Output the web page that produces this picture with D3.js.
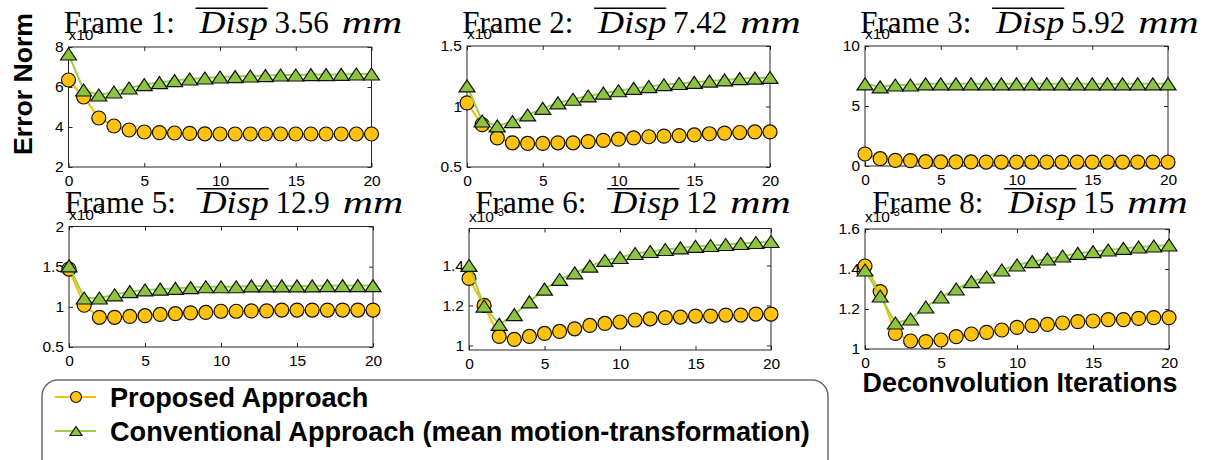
<!DOCTYPE html>
<html><head><meta charset="utf-8">
<script src="https://cdn.jsdelivr.net/npm/d3@7"></script>
<style>body{margin:0;background:#fff}svg{display:block}</style>
</head><body>
<svg id="c" width="1210" height="460"></svg>
<script>
// ---------------- DATA ----------------
const iterations = [0,1,2,3,4,5,6,7,8,9,10,11,12,13,14,15,16,17,18,19,20];
const xTicks = [0,5,10,15,20];
const frameLabels = ["Frame 1:", "Frame 2:", "Frame 3:", "Frame 5:", "Frame 6:", "Frame 8:"];
const dispValues = ["3.56", "7.42", "5.92", "12.9", "12", "15"];
const exponentLabel = "-3";
const seriesNames = ["Proposed Approach", "Conventional Approach (mean motion-transformation)"];
const xAxisTitle = "Deconvolution Iterations";
const yAxisTitle = "Error Norm";

const proposed1 = [6.35,5.5,4.45,4.05,3.85,3.75,3.72,3.7,3.68,3.66,3.65,3.65,3.65,3.65,3.65,3.65,3.65,3.65,3.65,3.65,3.65];
const conventional1 = [7.65,5.85,5.6,5.75,5.95,6.12,6.22,6.32,6.4,6.45,6.5,6.52,6.55,6.57,6.6,6.6,6.62,6.62,6.63,6.65,6.65];
const proposed2 = [1.03,0.85,0.74,0.70,0.695,0.695,0.70,0.70,0.71,0.72,0.73,0.74,0.75,0.755,0.76,0.765,0.775,0.78,0.785,0.79,0.79];
const conventional2 = [1.17,0.88,0.84,0.875,0.93,0.985,1.03,1.06,1.087,1.11,1.13,1.15,1.165,1.18,1.19,1.2,1.21,1.22,1.23,1.235,1.24];
const proposed3 = [1.0,0.61,0.47,0.45,0.36,0.34,0.34,0.34,0.33,0.33,0.33,0.33,0.33,0.33,0.33,0.33,0.33,0.33,0.33,0.33,0.33];
const conventional3 = [6.85,6.6,6.75,6.75,6.85,6.85,6.85,6.85,6.85,6.85,6.85,6.85,6.85,6.85,6.85,6.85,6.85,6.85,6.85,6.85,6.85];
const proposed5 = [1.47,1.02,0.87,0.87,0.88,0.89,0.905,0.915,0.925,0.93,0.945,0.945,0.95,0.95,0.96,0.96,0.96,0.96,0.96,0.96,0.96];
const conventional5 = [1.51,1.11,1.11,1.15,1.19,1.21,1.22,1.23,1.24,1.25,1.25,1.25,1.26,1.26,1.26,1.26,1.26,1.265,1.265,1.265,1.265];
const proposed6 = [1.335,1.2,1.045,1.03,1.045,1.06,1.07,1.083,1.10,1.11,1.117,1.127,1.133,1.139,1.142,1.147,1.147,1.152,1.152,1.157,1.157];
const conventional6 = [1.40,1.197,1.105,1.154,1.218,1.282,1.33,1.363,1.397,1.425,1.44,1.46,1.47,1.48,1.488,1.496,1.50,1.505,1.51,1.515,1.52];
const proposed8 = [1.415,1.287,1.078,1.04,1.037,1.045,1.062,1.075,1.083,1.095,1.108,1.117,1.123,1.13,1.137,1.14,1.147,1.147,1.153,1.157,1.157];
const conventional8 = [1.395,1.265,1.13,1.15,1.21,1.26,1.30,1.337,1.36,1.395,1.42,1.437,1.45,1.465,1.478,1.487,1.495,1.503,1.51,1.515,1.52];

const yTicks1 = [2,4,6,8];
const yTicks2 = [0.5,1,1.5];
const yTicks3 = [0,5,10];
const yTicks5 = [0.5,1,1.5,2];
const yTicks6 = [1,1.2,1.4];
const yTicks8 = [1,1.2,1.4,1.6];
const yDomain1 = [2,8];
const yDomain2 = [0.5,1.5];
const yDomain3 = [0,10];
const yDomain5 = [0.5,2];
const yDomain6 = [0.977,1.585];
const yDomain8 = [1,1.6];

// ---------------- LAYOUT / STYLE ----------------
const panels = [
  {L:68.5, R:371.5, T:47,    B:167, prop:proposed1, conv:conventional1, ticks:yTicks1, dom:yDomain1},
  {L:467,  R:770,   T:46,    B:167, prop:proposed2, conv:conventional2, ticks:yTicks2, dom:yDomain2},
  {L:865,  R:1168,  T:46,    B:166, prop:proposed3, conv:conventional3, ticks:yTicks3, dom:yDomain3},
  {L:69,   R:373,   T:226.5, B:347, prop:proposed5, conv:conventional5, ticks:yTicks5, dom:yDomain5},
  {L:469,  R:771,   T:228.5, B:350, prop:proposed6, conv:conventional6, ticks:yTicks6, dom:yDomain6},
  {L:865,  R:1169,  T:229,   B:349, prop:proposed8, conv:conventional8, ticks:yTicks8, dom:yDomain8}
];
const titleBase = [32.5,32.5,32.5,213,213,213];
const yellowFill = "#FFC20E", yellowLine = "#F7BE00";
const greenFill = "#8CC43F", greenLine = "#9BCF45";
const sans = "'Liberation Sans', Arial, Helvetica, sans-serif";
const serif = "'Liberation Serif', 'Times New Roman', serif";
const triPath = (w,h) => `M0,${-h/2}L${w/2},${h/2}L${-w/2},${h/2}Z`;

const svg = d3.select("#c");

panels.forEach((p, i) => {
  const g = svg.append("g");
  const x = d3.scaleLinear().domain([0,20]).range([p.L, p.R]);
  const y = d3.scaleLinear().domain(p.dom).range([p.B, p.T]);

  const styleAxis = sel => {
    sel.select(".domain").remove();
    sel.selectAll(".tick line").attr("stroke", "#262626").attr("stroke-width", 1);
    sel.selectAll(".tick text").attr("fill", "#000").style("font-family", sans).style("font-size", "15.5px");
  };
  g.append("g").attr("transform", `translate(0,${p.B})`)
    .call(d3.axisBottom(x).tickValues(xTicks).tickSizeInner(-4).tickSizeOuter(0).tickPadding(8)).call(styleAxis);
  g.append("g").attr("transform", `translate(0,${p.T})`)
    .call(d3.axisTop(x).tickValues(xTicks).tickSizeInner(-4).tickSizeOuter(0).tickFormat(""))
    .call(styleAxis);
  g.append("g").attr("transform", `translate(${p.L},0)`)
    .call(d3.axisLeft(y).tickValues(p.ticks).tickSizeInner(-4).tickSizeOuter(0).tickPadding(5).tickFormat(d => String(d)))
    .call(styleAxis);
  g.append("g").attr("transform", `translate(${p.R},0)`)
    .call(d3.axisRight(y).tickValues(p.ticks).tickSizeInner(-4).tickSizeOuter(0).tickFormat(""))
    .call(styleAxis);
  g.append("rect").attr("x", p.L).attr("y", p.T).attr("width", p.R - p.L).attr("height", p.B - p.T)
    .attr("fill", "none").attr("stroke", "#262626").attr("stroke-width", 1);

  const line = d3.line().x((d, j) => x(iterations[j])).y(d => y(d));
  // proposed
  g.append("path").datum(p.prop).attr("d", line).attr("fill", "none").attr("stroke", yellowLine).attr("stroke-width", 2);
  g.selectAll("circle.m").data(p.prop).join("circle").attr("class", "m")
    .attr("cx", (d, j) => x(iterations[j])).attr("cy", d => y(d)).attr("r", 7)
    .attr("fill", yellowFill).attr("stroke", "#111").attr("stroke-width", 1.2);
  // conventional
  g.append("path").datum(p.conv).attr("d", line).attr("fill", "none").attr("stroke", greenLine).attr("stroke-width", 2);
  g.selectAll("path.t").data(p.conv).join("path").attr("class", "t")
    .attr("d", triPath(16, 12))
    .attr("transform", (d, j) => `translate(${x(iterations[j])},${y(d)})`)
    .attr("fill", greenFill).attr("stroke", "#111").attr("stroke-width", 1.2);

  // exponent label
  const ex = g.append("text").attr("x", p.L).attr("y", p.T - 7)
    .style("font-family", sans).style("font-size", "15.5px").attr("fill", "#000");
  ex.append("tspan").text("x10");
  ex.append("tspan").attr("dy", -6).style("font-size", "11px").text(exponentLabel);
});

// titles (LaTeX-like: roman text, italic math with overline)
const titleSize = 31;
function buildTitle(i) {
  const p = panels[i];
  const s = titleSize;
  const g = svg.append("g").attr("class", "title");
  const parts = [
    {t: frameLabels[i], it: false, gap: 0.8},
    {t: "Disp", it: true, over: true, len: 2.2, gap: 0.22},
    {t: dispValues[i], it: false, gap: 0.42},
    {t: "mm", it: true, len: 1.95, gap: 0}
  ];
  let cx = 0;
  const items = [];
  parts.forEach(pt => {
    const t = g.append("text").attr("x", cx).attr("y", 0)
      .style("font-family", serif).style("font-size", s + "px")
      .style("font-style", pt.it ? "italic" : "normal").attr("fill", "#000").text(pt.t);
    let w = t.node().getComputedTextLength();
    if (pt.len) { w = pt.len * s; t.attr("textLength", w).attr("lengthAdjust", "spacingAndGlyphs"); }
    items.push({x: cx, w, over: pt.over});
    cx += w + pt.gap * s;
  });
  const total = cx;
  items.forEach(it => {
    if (it.over) g.append("line").attr("x1", it.x - 4).attr("x2", it.x + it.w)
      .attr("y1", -s * 0.78).attr("y2", -s * 0.78).attr("stroke", "#000").attr("stroke-width", 1.5);
  });
  const center = (p.L + p.R) / 2 + 13;
  g.attr("transform", `translate(${center - total / 2},${titleBase[i]})`);
}
panels.forEach((p, i) => buildTitle(i));

// fit helper
function fitText(sel, target) {
  const w = sel.node().getComputedTextLength();
  const fs = parseFloat(sel.style("font-size"));
  sel.style("font-size", (fs * target / w) + "px");
}

// y axis title
const yt = svg.append("text").attr("transform", "translate(32,84) rotate(-90)")
  .attr("text-anchor", "middle").style("font-family", sans).style("font-weight", "bold")
  .style("font-size", "27px").attr("fill", "#000").text(yAxisTitle);
fitText(yt, 142);

// x axis title
const xt = svg.append("text").attr("x", 1020).attr("y", 392).attr("text-anchor", "middle")
  .style("font-family", sans).style("font-weight", "bold").style("font-size", "27px")
  .attr("fill", "#000").text(xAxisTitle);
fitText(xt, 315);

// legend
const lg = svg.append("g");
lg.append("rect").attr("x", 42).attr("y", 380).attr("width", 786).attr("height", 120).attr("rx", 16)
  .attr("fill", "#fff").attr("stroke", "#6b6b6b").attr("stroke-width", 1.5);
const legendRows = [397, 431];
const lt = [];
seriesNames.forEach((name, k) => {
  const yy = legendRows[k];
  lg.append("line").attr("x1", 55).attr("x2", 96).attr("y1", yy).attr("y2", yy)
    .attr("stroke", k === 0 ? yellowLine : greenLine).attr("stroke-width", 2);
  if (k === 0) lg.append("circle").attr("cx", 76).attr("cy", yy).attr("r", 5.5)
    .attr("fill", yellowFill).attr("stroke", "#111").attr("stroke-width", 1.2);
  else lg.append("path").attr("d", triPath(12, 9)).attr("transform", `translate(76,${yy})`)
    .attr("fill", greenFill).attr("stroke", "#111").attr("stroke-width", 1.2);
  lt.push(lg.append("text").attr("x", 110).attr("y", yy + 10)
    .style("font-family", sans).style("font-weight", "bold").style("font-size", "26px")
    .attr("fill", "#000").text(name));
});
fitText(lt[1], 700);
lt[0].style("font-size", lt[1].style("font-size"));
</script>
</body></html>
